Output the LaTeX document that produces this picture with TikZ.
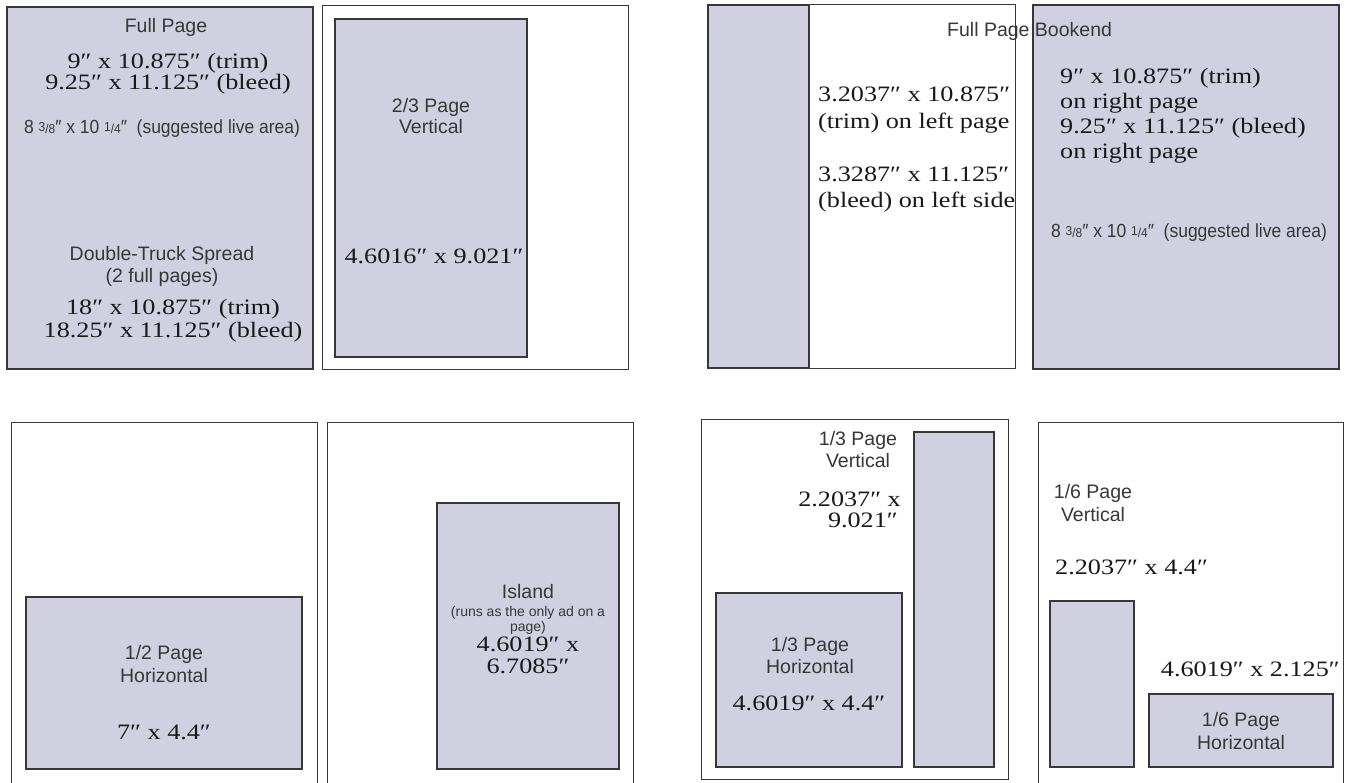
\documentclass[tikz,border=0pt]{standalone}
\usepackage{fontspec}
\setmainfont{Liberation Serif}
\newfontfamily\serf{Liberation Serif}[FakeStretch=1.19]
\newfontfamily\sanf{Liberation Sans}
\newfontfamily\sanfn{Liberation Sans}[FakeStretch=0.92]
\definecolor{adfill}{RGB}{208,208,225}
\definecolor{edge}{RGB}{55,55,55}
\definecolor{stxt}{RGB}{55,55,55}
\definecolor{btxt}{RGB}{25,25,25}
\newcommand\frc[2]{{\fontsize{13}{13}\selectfont\raisebox{0.3ex}{#1}/#2}}
\begin{document}
\begin{tikzpicture}[x=1pt,y=-1pt,
 page/.style={draw=edge,line width=1pt,fill=white},
 adbox/.style={draw=edge,line width=1.3pt,fill=adfill},
 sl/.style={font=\sanf\fontsize{19.5}{21}\selectfont,text=stxt,inner sep=0pt,anchor=base},
 bl/.style={font=\serf\fontsize{22}{23}\selectfont,text=btxt,inner sep=0pt,anchor=base},
 ll/.style={font=\sanfn\fontsize{19}{21}\selectfont,text=stxt,inner sep=0pt,anchor=base},
 tl/.style={font=\sanf\fontsize{14}{15}\selectfont,text=stxt,inner sep=0pt,anchor=base}]
\useasboundingbox (0,0) rectangle (1348,783);
\fill[white] (0,0) rectangle (1348,783);
% ---------- top row ----------
\draw[adbox] (7,7) rectangle (313,369);
\draw[page] (322,6) rectangle (628,369);
\draw[adbox] (335,19) rectangle (527,357);
\draw[page] (708,5) rectangle (1015,368);
\draw[adbox] (708,5) rectangle (809,368);
\draw[edge,line width=2pt] (708,368) -- (809,368);
\draw[adbox] (1033,5) rectangle (1339,369);
% ---------- bottom row ----------
\draw[page] (11,422) rectangle (317,800);
\draw[adbox] (26,597) rectangle (302,769);
\draw[page] (327,422) rectangle (633,800);
\draw[adbox] (437,503) rectangle (619,769);
\draw[page] (701,419) rectangle (1008,779);
\draw[adbox] (914,432) rectangle (994,767);
\draw[adbox] (716,593) rectangle (902,767);
\draw[page] (1038,422) rectangle (1343,800);
\draw[adbox] (1050,601) rectangle (1134,767);
\draw[adbox] (1149,694) rectangle (1333,767);
% ---------- full page ----------
\node[sl] (fpT) at (166,33) {Full Page};
\node[bl] (fp1) at (168,69) {9″ x 10.875″ (trim)};
\node[bl] (fp2) at (168,90) {9.25″ x 11.125″ (bleed)};
\node[ll] (fp3) at (162,134) {8 \frc{3}{8}″ x 10 \frc{1}{4}″\ \ (suggested live area)};
\node[sl] (fp4) at (162,261) {Double-Truck Spread};
\node[sl] (fp5) at (162,283) {(2 full pages)};
\node[bl] (fp6) at (173,315) {18″ x 10.875″ (trim)};
\node[bl] (fp7) at (173,337) {18.25″ x 11.125″ (bleed)};
% ---------- 2/3 page ----------
\node[sl] (tt1) at (431,113) {2/3 Page};
\node[sl] (tt2) at (431,134) {Vertical};
\node[bl] (tt3) at (434,264) {4.6016″ x 9.021″};
% ---------- bookend ----------
\node[sl,anchor=base west] (bkT) at (947,37) {Full Page Bookend};
\node[bl,anchor=base west] (bk1) at (818,102) {3.2037″ x 10.875″};
\node[bl,anchor=base west] (bk2) at (818,129) {(trim) on left page};
\node[bl,anchor=base west] (bk3) at (818,182) {3.3287″ x 11.125″};
\node[bl,anchor=base west] (bk4) at (818,208) {(bleed) on left side};
\node[bl,anchor=base west] (br1) at (1060,84) {9″ x 10.875″ (trim)};
\node[bl,anchor=base west] (br2) at (1060,109) {on right page};
\node[bl,anchor=base west] (br3) at (1060,134) {9.25″ x 11.125″ (bleed)};
\node[bl,anchor=base west] (br4) at (1060,159) {on right page};
\node[ll] (br5) at (1189,238) {8 \frc{3}{8}″ x 10 \frc{1}{4}″\ \ (suggested live area)};
% ---------- 1/2 page ----------
\node[sl] (hp1) at (164,659) {1/2 Page};
\node[sl] (hp2) at (164,682) {Horizontal};
\node[bl] (hp3) at (164,739) {7″ x 4.4″};
% ---------- island ----------
\node[sl] (is1) at (528,598) {Island};
\node[tl] (is2) at (528,616) {(runs as the only ad on a};
\node[tl] (is3) at (528,631) {page)};
\node[bl] (is4) at (528,651) {4.6019″ x};
\node[bl] (is5) at (528,673) {6.7085″};
% ---------- 1/3 page ----------
\node[sl] (th1) at (858,445) {1/3 Page};
\node[sl] (th2) at (858,467) {Vertical};
\node[bl,anchor=base east] (th3) at (901,506) {2.2037″ x};
\node[bl,anchor=base east] (th4) at (898,527) {9.021″};
\node[sl] (th5) at (810,651) {1/3 Page};
\node[sl] (th6) at (810,673) {Horizontal};
\node[bl] (th7) at (809,710) {4.6019″ x 4.4″};
% ---------- 1/6 page ----------
\node[sl] (sx1) at (1093,498) {1/6 Page};
\node[sl] (sx2) at (1093,521) {Vertical};
\node[bl,anchor=base west] (sx3) at (1055,574) {2.2037″ x 4.4″};
\node[bl,anchor=base east] (sx4) at (1340,676) {4.6019″ x 2.125″};
\node[sl] (sx5) at (1241,726) {1/6 Page};
\node[sl] (sx6) at (1241,749) {Horizontal};
\end{tikzpicture}
\end{document}
